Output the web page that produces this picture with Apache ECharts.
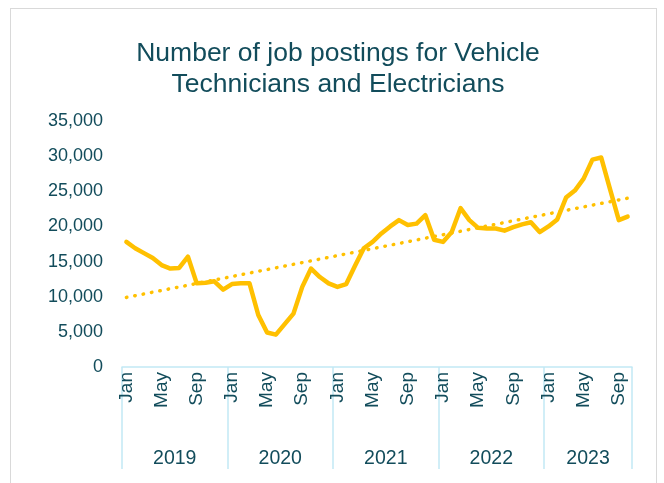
<!DOCTYPE html>
<html>
<head>
<meta charset="utf-8">
<script src="https://cdn.jsdelivr.net/npm/echarts@6/dist/echarts.min.js"></script>
<style>
  html, body { margin: 0; padding: 0; background: #fff; }
  #frame { position: absolute; left: 10px; top: 8px; width: 645px; height: 500px; border: 1px solid #d9d9d9; }
  #main { position: absolute; left: 0; top: 0; width: 664px; height: 483px; }
</style>
</head>
<body>
<div id="frame"></div>
<div id="main"></div>
<script>
// 年份 / 月份
const years = ['2019', '2020', '2021', '2022', '2023'];
const monthNames = ['Jan', 'Feb', 'Mar', 'Apr', 'May', 'Jun', 'Jul', 'Aug', 'Sep', 'Oct', 'Nov', 'Dec'];
const shownMonths = ['Jan', 'May', 'Sep'];

// job postings per month
const postings2019 = [17800, 16900, 16200, 15500, 14500, 14000, 14100, 15700, 11900, 12000, 12200, 11000];
const postings2020 = [11800, 11900, 11900, 7400, 4900, 4600, 6100, 7600, 11400, 14000, 12800, 11900];
const postings2021 = [11400, 11800, 14400, 16900, 17800, 19000, 20000, 20900, 20200, 20400, 21600, 18100];
const postings2022 = [17800, 19200, 22600, 20900, 19800, 19700, 19700, 19400, 19900, 20300, 20600, 19200];
const postings2023 = [20000, 21000, 24100, 25100, 26800, 29500, 29800, 25300, 20900, 21400];

const yTicks = [0, 5000, 10000, 15000, 20000, 25000, 30000, 35000];

const byYear = [postings2019, postings2020, postings2021, postings2022, postings2023];
const categories = [];
const postings = [];
const yearCenters = [];
byYear.forEach(function (vals, y) {
  yearCenters.push(postings.length + vals.length / 2);
  vals.forEach(function (v, m) {
    categories.push(monthNames[m] + ' ' + years[y]);
    postings.push(v);
  });
});

// 线性趋势线 (least squares, like the spreadsheet trendline)
const n = postings.length;
let sx = 0, sy = 0, sxy = 0, sxx = 0;
postings.forEach(function (v, i) { sx += i; sy += v; sxy += i * v; sxx += i * i; });
const slope = (n * sxy - sx * sy) / (n * sxx - sx * sx);
const intercept = (sy - slope * sx) / n;
const trend = postings.map(function (v, i) { return intercept + slope * i; });

const textColor = '#124c5b';
const boxColor = '#c2e9f5';
const lineColor = '#ffc000';
const font = 'Liberation Sans, Arial, sans-serif';

const chart = echarts.init(document.getElementById('main'));
chart.setOption({
  animation: false,
  title: {
    text: 'Number of job postings for Vehicle\nTechnicians and Electricians',
    left: 333,
    top: 33,
    textAlign: 'center',
    textStyle: {
      fontFamily: font,
      fontWeight: 'normal',
      fontSize: 26.5,
      lineHeight: 31,
      color: textColor
    }
  },
  grid: { left: 122, right: 32, top: 121, bottom: 116, containLabel: false },
  xAxis: [
    {
      type: 'category',
      data: categories,
      boundaryGap: true,
      axisLine: { show: true, lineStyle: { color: boxColor, width: 1.5 } },
      axisTick: {
        show: true,
        length: 102,
        interval: function (i) { return i % 12 === 0; },
        lineStyle: { color: boxColor, width: 1.5 }
      },
      axisLabel: {
        rotate: 90,
        margin: 5,
        interval: function (i, v) { return shownMonths.indexOf(v.split(' ')[0]) >= 0; },
        formatter: function (v) { return v.split(' ')[0]; },
        fontFamily: font,
        fontSize: 19,
        color: textColor
      },
      splitLine: { show: false }
    },
    {
      type: 'value',
      position: 'bottom',
      offset: 74,
      min: 0,
      max: n,
      axisLine: { show: false },
      axisTick: { show: false },
      splitLine: { show: false },
      axisLabel: {
        customValues: yearCenters,
        formatter: function (v) {
          const k = yearCenters.indexOf(v);
          return k >= 0 ? years[k] : '';
        },
        fontFamily: font,
        fontSize: 19.5,
        color: textColor
      }
    }
  ],
  yAxis: {
    type: 'value',
    min: yTicks[0],
    max: yTicks[yTicks.length - 1],
    interval: yTicks[1] - yTicks[0],
    axisLine: { show: false },
    axisTick: { show: false },
    splitLine: { show: false },
    axisLabel: {
      margin: 19,
      formatter: function (v) { return v.toLocaleString('en-US'); },
      fontFamily: font,
      fontSize: 18,
      color: textColor
    }
  },
  series: [
    {
      name: 'Trend',
      type: 'line',
      data: trend,
      symbol: 'none',
      silent: true,
      lineStyle: { color: lineColor, width: 3.5, type: [0.5, 8], cap: 'round' },
      z: 2
    },
    {
      name: 'Job postings',
      type: 'line',
      data: postings,
      symbol: 'none',
      lineStyle: { color: lineColor, width: 4.5, join: 'round', cap: 'round' },
      z: 3
    }
  ]
});
</script>
</body>
</html>
